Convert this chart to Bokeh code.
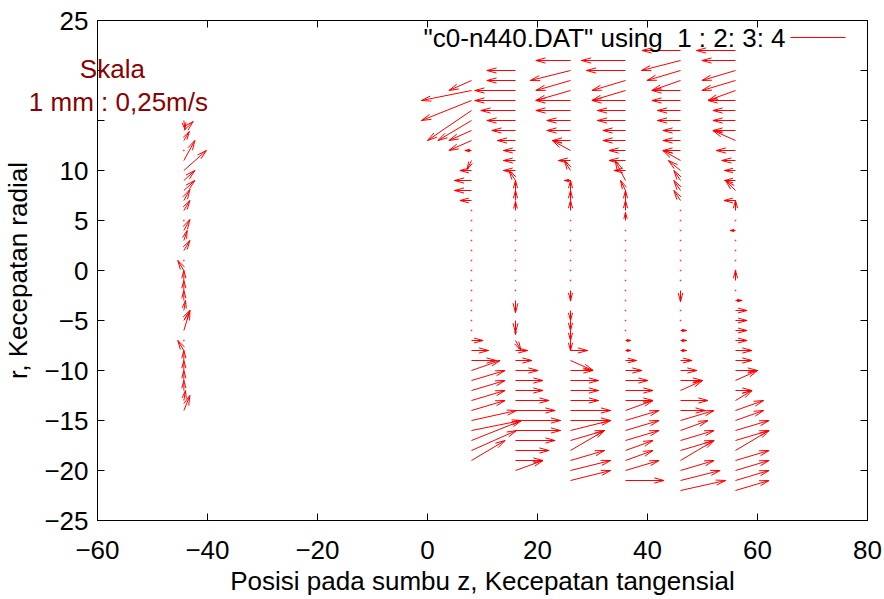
import math
from bokeh.plotting import figure
from bokeh.models import LinearAxis, FixedTicker
from bokeh.embed import file_html
from bokeh.resources import INLINE
from bokeh.core.properties import value

# ---------------- data: measurement columns (x position, y rows, u, v) ----------------
col_x = [-44.3, 8, 16, 26, 36, 46, 56]

y_m44 = [15, 14, 13, 12, 11, 10, 9, 8, 7, 6, 5, 4, 3, 2, 1, 0, -1, -2, -3, -4, -5, -6, -7, -8, -9, -10, -11, -12, -13, -14]
u_m44 = [0.2, 1.7, 1.0, 0, 2.0, 4.1, 2.0, 2.0, 1.1, 1.1, 0, 1.1, 0.6, 1.1, 0, -1.1, 0, 0, 0, 0.3, 1.1, 1.1, 0, -1.1, 0, 0, 0, 0, 0.3, 1.1]
v_m44 = [-0.9, 0.9, 0.9, 0, 2.0, 2.0, 1.0, 1.0, 1.1, 1.0, 0, 1.1, 1.0, 1.0, 0, 1.0, 1.0, 1.0, 1.0, 1.0, 1.0, 2.0, 0, 1.0, 1.0, 1.0, 1.0, 1.0, 1.0, 1.5]

y_8 = [19, 18, 17, 16, 15, 14, 13, 12, 11, 10, 9, 8, 7, 6, 5, 4, 3, 2, 1, 0, -1, -2, -3, -4, -5, -6, -7, -8, -9, -10, -11, -12, -13, -14, -15, -16, -17, -18, -19]
u_8 = [-4.1, -9.1, -9.1, -8.0, -6.1, -4.1, -4.1, -1.2, -0.8, -2.1, -3.1, -3.1, -2.1, 0, 0, 0, 0, 0, 0, 0, 0, 0, 0, 0, 0, 0, 2.1, 3.1, 4.5, 5.2, 6.1, 6.1, 6.1, 6.1, 8.2, 9.1, 9.1, 8.2, 6.1]
v_8 = [-1, -1, -2, -3, -2, -1, -1, 0, -0.9, 0, 0, 0, 0, 0, 0, 0, 0, 0, 0, 0, 0, 0, 0, 0, 0, 0, 0, 0, 0, 1, 1, 1, 1, 1, 1, 1, 2, 2, 2]

y_16 = [20, 19, 18, 17, 16, 15, 14, 13, 12, 11, 10, 9, 8, 7, 6, 5, 4, 3, 2, 1, 0, -1, -2, -3, -4, -5, -6, -7, -8, -9, -10, -11, -12, -13, -14, -15, -16, -17, -18, -19, -20]
u_16 = [-5.2, -5.2, -7.4, -7.4, -6.3, -5.2, -4.3, -3.3, -2.2, -2.2, -2.2, -1.2, 0, 0, 0, 0, 0, 0, 0, 0, 0, 0, 0, 0, 0, 0, 0, 1.0, 2.2, 3.0, 4.1, 5.0, 5.0, 6.1, 7.2, 8.2, 8.2, 7.2, 6.1, 5.0, 5.0]
v_16 = [0, 0, 0, 0, 0, 0, 0, 0, 0, 0, 0, 1, 1, 1, 0.9, 0, 0, 0, 0, 0, 0, 0, 0, -1.2, 0, -1.2, -0.4, -1, 0, 0, 0, 0, 0, 0, 0, 0, 0, 0, 0, 0, 1]

y_26 = [21, 20, 19, 18, 17, 16, 15, 14, 13, 12, 11, 10, 9, 8, 7, 6, 5, 4, 3, 2, 1, 0, -1, -2, -3, -4, -5, -6, -7, -8, -9, -10, -11, -12, -13, -14, -15, -16, -17, -18, -19, -20, -21]
u_26 = [-6.3, -7.3, -6.3, -6.3, -6.3, -6.3, -4.3, -4.3, -3.3, -3.3, -2.2, -1.1, -1.1, 0, 0, 0, 0, 0, 0, 0, 0, 0, 0, 0, 0, 0, 0, 0, 0, 3.1, 4.1, 4.1, 5.1, 5.1, 5.1, 7.3, 7.3, 7.3, 6.2, 6.2, 6.2, 7.3, 7.3]
v_26 = [0, -1, -1, -1, 0, 0, 0, 0, 0, 1, 0, 1, 0, 1, 1, 1, 0, 0, 0, 0, 0, 0, 0, -1, 0, -1, -1, -1, -1, 0, -1, 0, 0, 0, 0, 0, 0, 1, 1, 2, 1, 1, 1]

y_36 = [21, 20, 19, 18, 17, 16, 15, 14, 13, 12, 11, 10, 9, 8, 7, 6, 5, 4, 3, 2, 1, 0, -1, -2, -3, -4, -5, -6, -7, -8, -9, -10, -11, -12, -13, -14, -15, -16, -17, -18, -19, -20, -21]
u_36 = [-8.0, -7.1, -6.1, -6.1, -6.1, -5.1, -5.1, -4.1, -4.1, -3.0, -3.0, -2.1, -1.9, -0.9, 0, 0, 0, 0, 0, 0, 0, 0, 0, 0, 0, 0, 0, 0, 1.0, 1.0, 2.0, 3.0, 4.1, 5.0, 5.0, 5.0, 6.1, 6.1, 6.1, 5.0, 5.0, 6.1, 7.0]
v_36 = [0, 0, -1, -1, 0, 0, 0, 0, 0, 0, 0, 0, 2, 1, 1, 1, 0.8, 0, 0, 0, 0, 0, 0, 0, 0, 0, 0, 0, 0, 0, 0, 0, 0, 0, 0, 1, 1, 1, 1, 1, 1, 1, 0]

y_46 = [22, 21, 20, 19, 18, 17, 16, 15, 14, 13, 12, 11, 10, 9, 8, 7, 6, 5, 4, 3, 2, 1, 0, -1, -2, -3, -4, -5, -6, -7, -8, -9, -10, -11, -12, -13, -14, -15, -16, -17, -18, -19, -20, -21, -22]
u_46 = [-7.0, -7.1, -6.1, -5.2, -5.2, -5.2, -4.2, -4.2, -3.2, -3.2, -3.2, -3.2, -2.2, -1.2, -1.2, -1.2, 0, 0, 0, 0, 0, 0, 0, 0, 0, 0, 0, 0, 1.1, 1.1, 1.1, 2.1, 3.0, 4.0, 4.0, 5.0, 4.5, 6.1, 5.0, 6.1, 6.1, 6.1, 6.1, 7.2, 8.2]
v_46 = [0, -1, -1, -1, 0, 0, 0, 0, 0, 0, 0, 1, 1, 1, 1, 1, 0, 0, 0, 0, 0, 0, 0, 0, -1.1, 0, 0, 0, 0, 0, 0, 0, 0, 0, 1, 0, 0, 1, 1, 1, 1, 2, 1, 1, 1]

y_56 = [22, 21, 20, 19, 18, 17, 16, 15, 14, 13, 12, 11, 10, 9, 8, 7, 6, 5, 4, 3, 2, 1, 0, -1, -2, -3, -4, -5, -6, -7, -8, -9, -10, -11, -12, -13, -14, -15, -16, -17, -18, -19, -20, -21, -22]
u_56 = [-7.1, -6.1, -6.1, -6.1, -5.0, -5.0, -4.1, -4.1, -4.1, -4.1, -3.5, -2.5, -2.0, -2.0, -1.8, -2.1, 0, 0, -1.0, 0, 0, 0, 0, 0, 0, 1.2, 2.1, 2.1, 2.1, 2.1, 3.0, 3.0, 4.0, 4.0, 3.0, 3.0, 5.1, 5.1, 6.1, 6.1, 6.1, 6.1, 6.1, 6.1, 6.1]
v_56 = [0, 0, -1, -1, -1, 0, 0, 0, 0, 1, 0, 0, 0, 0, 1, 0, 1, 0, 0, 0, 0, 0, 0, 1, 0, 0, 0, 0, 0, 0, 0, 0, 0, 1, 0, 1, 1, 1, 1, 1, 2, 1, 1, 1, 1]

columns = [(col_x[0], y_m44, u_m44, v_m44), (col_x[1], y_8, u_8, v_8), (col_x[2], y_16, u_16, v_16),
           (col_x[3], y_26, u_26, v_26), (col_x[4], y_36, u_36, v_36), (col_x[5], y_46, u_46, v_46),
           (col_x[6], y_56, u_56, v_56)]

x_ticks = [-60, -40, -20, 0, 20, 40, 60, 80]
y_ticks = [-25, -20, -15, -10, -5, 0, 5, 10, 15, 20, 25]
y_hidden_labels = [20, 15]   # covered by the scale note in the reference
legend_text = '"c0-n440.DAT" using\u00a0 1 : 2: 3: 4'
scale_title = "Skala"
scale_text = "1 mm : 0,25m/s"

# ---------------- layout ----------------
W, H = 884, 599
BL, BR, BT, BB = 97, 17, 20, 79
FW, FH = W - BL - BR, H - BT - BB
X0, X1, Y0, Y1 = -60, 80, -25, 25
sx, sy = FW / (X1 - X0), FH / (Y1 - Y0)
FONT = "Liberation Sans"
FS = "26px"
RED = "#ff0000"

p = figure(width=W, height=H, x_range=(X0, X1), y_range=(Y0, Y1),
           output_backend="svg", toolbar_location=None,
           min_border_left=BL, min_border_right=BR, min_border_top=BT, min_border_bottom=BB)
p.grid.visible = False
p.outline_line_color = "black"
p.outline_line_width = 1
p.background_fill_color = "white"
p.border_fill_color = "white"

xt = FixedTicker(ticks=x_ticks)
yt = FixedTicker(ticks=y_ticks)
p.xaxis.ticker = xt
p.yaxis.ticker = yt
for ax in (p.xaxis[0], p.yaxis[0]):
    ax.major_tick_in = 7
    ax.major_tick_out = 0
    ax.minor_tick_line_color = None
    ax.axis_line_color = "black"
    ax.major_tick_line_color = "black"
    ax.major_label_text_font = FONT
    ax.major_label_text_font_size = FS
    ax.major_label_text_color = "black"
    ax.axis_label_text_font = FONT
    ax.axis_label_text_font_size = FS
    ax.axis_label_text_font_style = "normal"
    ax.axis_label_text_color = "black"
p.xaxis.axis_label = "Posisi pada sumbu z, Kecepatan tangensial"
p.yaxis.axis_label = "r, Kecepatan radial"
p.yaxis.major_label_overrides = {t: "" for t in y_hidden_labels}
p.xaxis.major_label_standoff = 20
p.xaxis.axis_label_standoff = 4
p.yaxis.major_label_standoff = 9
p.yaxis.axis_label_standoff = 8

# mirrored inward ticks on top and right (no labels)
for place, tk in (("above", xt), ("right", yt)):
    mir = LinearAxis(ticker=tk, major_label_text_font_size="1px", major_label_text_color=None,
                     major_label_standoff=0, major_tick_in=7, major_tick_out=0,
                     minor_tick_line_color=None, axis_line_color="black")
    p.add_layout(mir, place)

# ---------------- vectors ----------------
HEAD = 10.0
ANG = math.radians(15)
sx0, sy0, sx1, sy1 = [], [], [], []
dot_x, dot_y = [], []
for cx, ys, us, vs in columns:
    for y, u, v in zip(ys, us, vs):
        if u == 0 and v == 0:
            dot_x.append(cx)
            dot_y.append(y)
            continue
        ex, ey = cx + u, y + v
        sx0.append(cx); sy0.append(y); sx1.append(ex); sy1.append(ey)
        px, py = u * sx, v * sy
        L = math.hypot(px, py)
        hl = min(HEAD, 0.8 * L)
        ux, uy = px / L, py / L
        for a in (ANG, -ANG):
            rx = ux * math.cos(a) - uy * math.sin(a)
            ry = ux * math.sin(a) + uy * math.cos(a)
            sx0.append(ex); sy0.append(ey)
            sx1.append(ex - hl * rx / sx); sy1.append(ey - hl * ry / sy)

p.segment(x0=sx0, y0=sy0, x1=sx1, y1=sy1, line_color=RED, line_width=1)
p.scatter(x=dot_x, y=dot_y, marker="square", size=1.5, line_color=None, fill_color=RED, fill_alpha=0.8)

# ---------------- key ----------------
p.text(x=[65.1], y=[23.3], text=[legend_text], text_align="right", text_baseline="middle",
       text_font=value(FONT), text_font_size=FS, text_color="black")
p.segment(x0=[66.0], y0=[23.3], x1=[76.0], y1=[23.3], line_color=RED, line_width=1)

# ---------------- scale note (may extend past the frame) ----------------
p.text(x=[-57.3, -56.2], y=[20.2, 16.9], text=[scale_title, scale_text],
       text_align="center", text_baseline="middle", text_font=value(FONT),
       text_font_size=FS, text_color="#8b0000", level="overlay")

open("out.html", "w").write(file_html(p, INLINE))
